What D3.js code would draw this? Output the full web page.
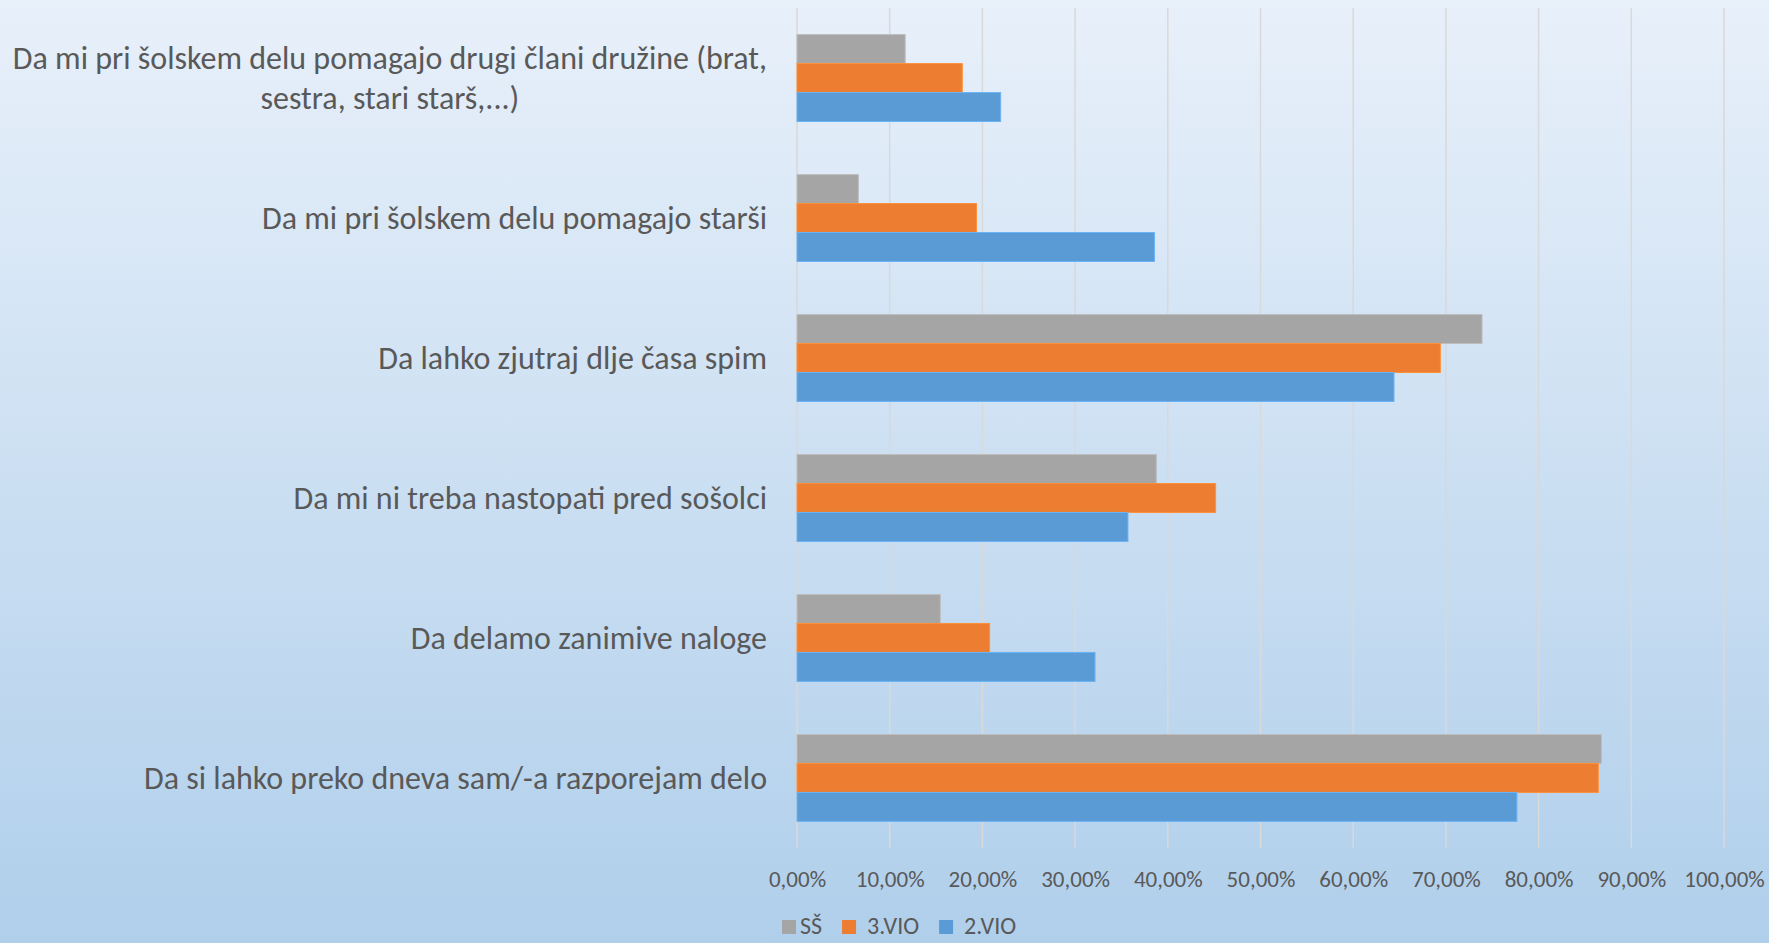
<!DOCTYPE html>
<html>
<head>
<meta charset="utf-8">
<script src="https://cdn.jsdelivr.net/npm/d3@7"></script>
<style>
  html, body { margin: 0; padding: 0; overflow: hidden; }
  body { width: 1769px; height: 943px; }
  text { font-family: Carlito, "Liberation Sans Narrow", Lato, "Open Sans", sans-serif; fill: #595959; }
</style>
</head>
<body>
<div id="chart"></div>
<script>
// categories, top to bottom as shown
var categories = [
    "Da mi pri šolskem delu pomagajo drugi člani družine (brat, sestra, stari starš,...)",
    "Da mi pri šolskem delu pomagajo starši",
    "Da lahko zjutraj dlje časa spim",
    "Da mi ni treba nastopati pred sošolci",
    "Da delamo zanimive naloge",
    "Da si lahko preko dneva sam/-a razporejam delo"
];
var seriesNames = ["SŠ", "3.VIO", "2.VIO"];
var seriesColors = ["#a5a5a5", "#ed7d31", "#5b9bd5"];

// percentages
var ss   = [11.67, 6.62, 73.9, 38.76, 15.46, 86.78];
var vio3 = [17.83, 19.36, 69.4, 45.16, 20.78, 86.44];
var vio2 = [21.97, 38.56, 64.4, 35.7, 32.15, 77.66];

var tickValues = [0, 10, 20, 30, 40, 50, 60, 70, 80, 90, 100];

(function() {
    var width = 1769, height = 943;
    var margin = {top: 8, left: 797, right: 45, bottom: 95};

    var svg = d3.select('#chart')
        .append('svg')
        .attr('width', width)
        .attr('height', height);

    var defs = svg.append('defs');
    var grad = defs.append('linearGradient')
        .attr('id', 'bg')
        .attr('x1', 0).attr('y1', 0).attr('x2', 0).attr('y2', 1);
    grad.append('stop').attr('offset', '0%').attr('stop-color', '#e8f0fa');
    grad.append('stop').attr('offset', '100%').attr('stop-color', '#b0cfeb');

    svg.append('rect')
        .attr('width', width).attr('height', height)
        .attr('fill', 'url(#bg)');

    var series = [ss, vio3, vio2];
    var rows = categories.map(function(c, i) {
        return {cat: c, vals: series.map(function(s, k) { return {name: seriesNames[k], v: s[i]} })};
    });

    var x = d3.scaleLinear()
        .domain([0, 100])
        .range([margin.left, width - margin.right]);

    var y = d3.scaleBand()
        .domain(categories)
        .range([margin.top, height - margin.bottom])
        .paddingInner(0.379)
        .paddingOuter(0.19);

    var y1 = d3.scaleBand()
        .domain(seriesNames)
        .range([0, y.bandwidth()]);

    var color = d3.scaleOrdinal().domain(seriesNames).range(seriesColors);

    var pct = d3.formatLocale({decimal: ",", thousands: ".", grouping: [3], currency: ["", "€"]}).format(".2f");

    // gridlines
    svg.append('g')
        .selectAll('line')
        .data(tickValues)
        .enter().append('line')
        .attr('x1', function(d) { return x(d) }).attr('x2', function(d) { return x(d) })
        .attr('y1', margin.top).attr('y2', height - margin.bottom)
        .attr('stroke', '#d9d9d9')
        .attr('stroke-width', 1.5);

    // x axis labels
    var xAxis = d3.axisBottom(x)
        .tickValues(tickValues)
        .tickSize(0)
        .tickPadding(0)
        .tickFormat(function(d) { return pct(d) + '%' });

    var ax = svg.append('g')
        .attr('transform', 'translate(0,' + (height - margin.bottom) + ')')
        .call(xAxis);
    ax.select('.domain').remove();
    ax.selectAll('text')
        .attr('y', 39)
        .attr('dy', 0)
        .style('font-size', '23px')
        .style('font-family', null)
        .attr('fill', '#595959');

    // bars
    var groups = svg.selectAll('.grp')
        .data(rows)
        .enter().append('g')
        .attr('class', 'grp')
        .attr('transform', function(d) { return 'translate(0,' + y(d.cat) + ')' });

    groups.selectAll('rect')
        .data(function(d) { return d.vals })
        .enter().append('rect')
        .attr('x', x(0))
        .attr('y', function(d) { return y1(d.name) })
        .attr('height', y1.bandwidth())
        .attr('width', function(d) { return x(d.v) - x(0) })
        .attr('fill', function(d) { return color(d.name) })
        .attr('stroke', function(d) { return d3.color(color(d.name)).brighter(0.4) })
        .attr('stroke-width', 1);

    // category labels, wrapped and centred like Excel does
    var labelRight = 767, maxW = 770, lineH = 40;
    svg.selectAll('.cat')
        .data(categories)
        .enter().append('text')
        .attr('class', 'cat')
        .style('font-size', '32px')
        .each(function(d) {
            var t = d3.select(this);
            var words = d.split(' '), lines = [], cur = [];
            var probe = t.append('tspan');
            words.forEach(function(w) {
                cur.push(w);
                probe.text(cur.join(' '));
                if (probe.node().getComputedTextLength() > maxW && cur.length > 1) {
                    cur.pop();
                    lines.push(cur.join(' '));
                    cur = [w];
                }
            });
            lines.push(cur.join(' '));
            var widest = 0;
            lines.forEach(function(l) {
                probe.text(l);
                widest = Math.max(widest, probe.node().getComputedTextLength());
            });
            probe.remove();
            var cx = labelRight - widest / 2;
            var cy = y(d) + y.bandwidth() / 2;
            t.attr('text-anchor', 'middle');
            lines.forEach(function(l, i) {
                t.append('tspan')
                    .attr('x', cx)
                    .attr('y', cy + (i - (lines.length - 1) / 2) * lineH)
                    .attr('dy', '0.35em')
                    .text(l);
            });
        });

    // legend
    var legend = svg.append('g').attr('transform', 'translate(782,916)');
    var lx = 0;
    seriesNames.forEach(function(n, i) {
        var item = legend.append('g').attr('transform', 'translate(' + lx + ',0)');
        item.append('rect').attr('y', 4).attr('width', 14).attr('height', 14).attr('fill', seriesColors[i]);
        var txt = item.append('text')
            .attr('x', i === 0 ? 18 : 25).attr('y', 18)
            .style('font-size', '24px')
            .text(n);
        lx += (i === 0 ? 18 : 25) + txt.node().getComputedTextLength() + 20;
    });
})();
</script>
</body>
</html>
